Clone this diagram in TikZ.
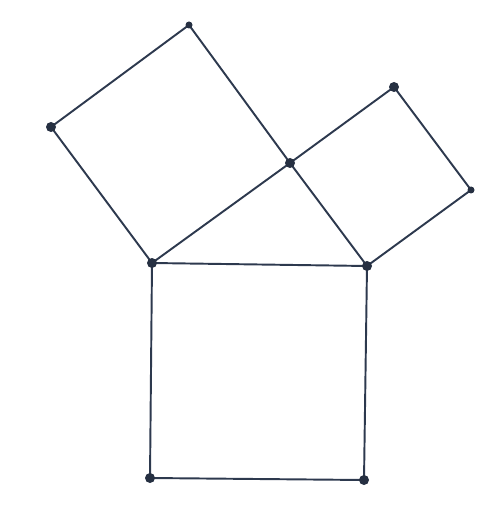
\documentclass[tikz,border=0pt]{standalone}
\usepackage{tikz}
\usepackage{xcolor}
\usetikzlibrary{positioning}
\definecolor{colEdge}{RGB}{45,57,78}

\begin{document}
\begin{tikzpicture}[
  x=0.02cm, y=-0.02cm,
  edge/.style={draw=colEdge, line width=1.1pt, line join=round},
  bigdot/.style={circle, fill=colEdge!85!black, inner sep=0pt, minimum size=0.2cm},
  smalldot/.style={circle, fill=colEdge!85!black, inner sep=0pt, minimum size=0.14cm},
]
\useasboundingbox (0,0) rectangle (491,509);
% triangle vertices
\coordinate (a) at (152,263);
\coordinate (b) at (367,266);
\coordinate (c) at (290,163);
% outer square corners
\coordinate (ab1) at (150,478);
\coordinate (ab2) at (364,480);
\coordinate (ac1) at (51,127);
\coordinate (ac2) at (189,25);
\coordinate (cb1) at (394,87);
\coordinate (cb2) at (471,190);

\draw[edge] (a) -- (b) -- (c) -- cycle;
\draw[edge] (a) -- (ab1) -- (ab2) -- (b);
\draw[edge] (a) -- (ac1) -- (ac2) -- (c);
\draw[edge] (c) -- (cb1) -- (cb2) -- (b);

\node[bigdot] (na) at (a) {};
\node[bigdot] (nb) at (b) {};
\node[bigdot] (nc) at (c) {};
\node[bigdot] (nab1) at (ab1) {};
\node[bigdot] (nab2) at (ab2) {};
\node[bigdot] (nac1) at (ac1) {};
\node[smalldot] (nac2) at (ac2) {};
\node[bigdot] (ncb1) at (cb1) {};
\node[smalldot] (ncb2) at (cb2) {};
\end{tikzpicture}
\end{document}
